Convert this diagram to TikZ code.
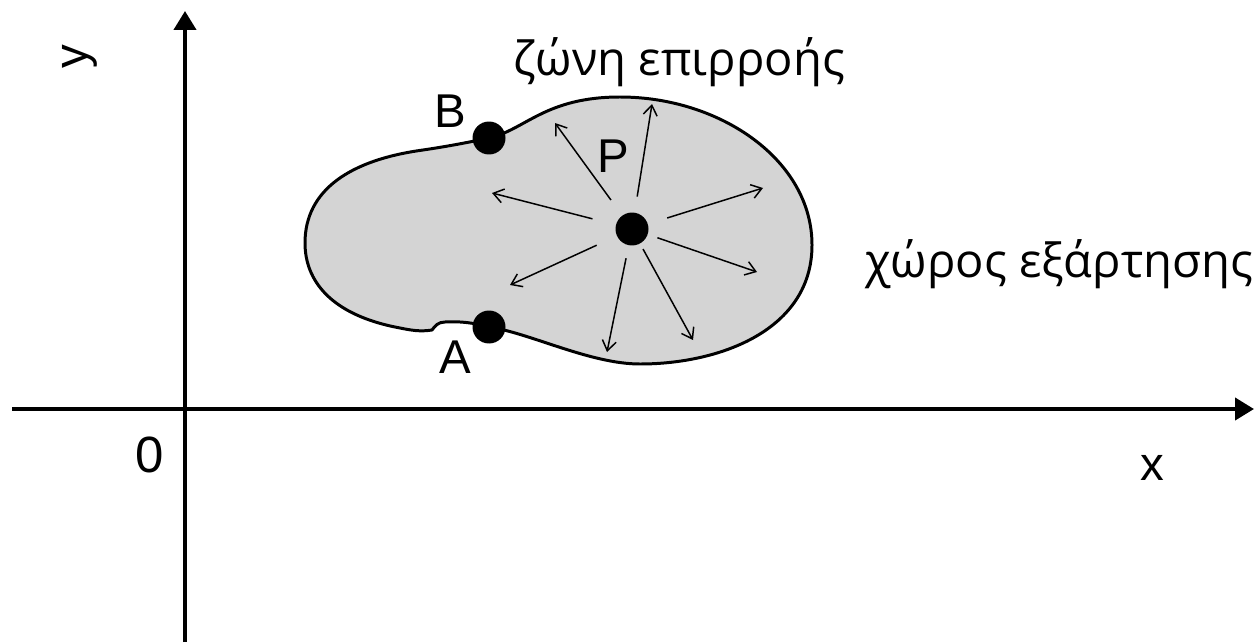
\documentclass[tikz,border=0pt]{standalone}
\usepackage{fontspec}
\setmainfont{Liberation Sans}
\newfontfamily\greekfont{Open Sans}
\usetikzlibrary{arrows.meta}
\definecolor{blobgray}{RGB}{212,212,212}
\begin{document}
\begin{tikzpicture}[x=0.02cm,y=-0.02cm,
  axis/.style={line width=2.3pt,-{Triangle[length=0.38cm,width=0.44cm]}},
  dot/.style={circle,fill=black,inner sep=0pt,minimum size=0.66cm},
  ray/.style={line width=0.85pt,-{Straight Barb[length=0.2cm,width=0.28cm]}},
  lbl/.style={inner sep=0pt,anchor=base,font=\fontsize{27}{31}\selectfont},
  glbl/.style={inner sep=0pt,anchor=base,font=\greekfont\fontsize{26.8}{30}\selectfont},
  blob/.style={line width=1.7pt,fill=blobgray,line join=round}]
\useasboundingbox (0,0) rectangle (1260,642);
% axes
\coordinate (xs) at (12,409);
\coordinate (xe) at (1254,409);
\coordinate (ys) at (185,642);
\coordinate (ye) at (185,11);
\draw[axis] (xs) -- (xe);
\draw[axis] (ys) -- (ye);
% region
\draw[blob] (489,138)
  .. controls (525,130) and (545,97) .. (620,97)
  .. controls (720,97) and (812,160) .. (812,245)
  .. controls (812,330) and (720,364) .. (640,364)
  .. controls (590,364) and (530,333) .. (489,327)
  .. controls (475,323) and (460,321) .. (445,322)
  .. controls (438,322) and (435,326) .. (432,330)
  .. controls (420,332) and (410,330) .. (400,328)
  .. controls (330,315) and (305,280) .. (305,243)
  .. controls (305,190) and (350,160) .. (423,150)
  .. controls (450,146) and (470,142) .. (489,138) -- cycle;
% points
\node[dot] (B) at (489,138) {};
\node[dot] (A) at (489,327) {};
\node[dot] (P) at (632,229) {};
% rays
\coordinate (e1) at (555,123);
\coordinate (e2) at (652,104);
\coordinate (e3) at (763,188);
\coordinate (e4) at (757,272);
\coordinate (e5) at (693,340);
\coordinate (e6) at (607,352);
\coordinate (e7) at (510,285);
\coordinate (e8) at (492,193);
\foreach \e/\s in {e1/0.38cm,e2/0.32cm,e3/0.40cm,e4/0.20cm,e5/0.12cm,e6/0.26cm,e7/0.44cm,e8/0.48cm}
  \draw[ray,shorten <=\s] (P) -- (\e);
% labels
\node[lbl] (lB) at (450,128) {B};
\node[lbl] (lA) at (455,373) {A};
\node[lbl] (lP) at (613,172) {P};
\node[lbl,font=\fontsize{29}{33}\selectfont] (l0) at (150,472) {0};
\node[lbl] (lx) at (1152,480) {x};
\node[lbl,rotate=90,anchor=center] (ly) at (80,57) {y};
\node[glbl] (zone) at (679,75) {ζώνη επιρροής};
\node[glbl] (space) at (1059,277) {χώρος εξάρτησης};
\end{tikzpicture}
\end{document}
